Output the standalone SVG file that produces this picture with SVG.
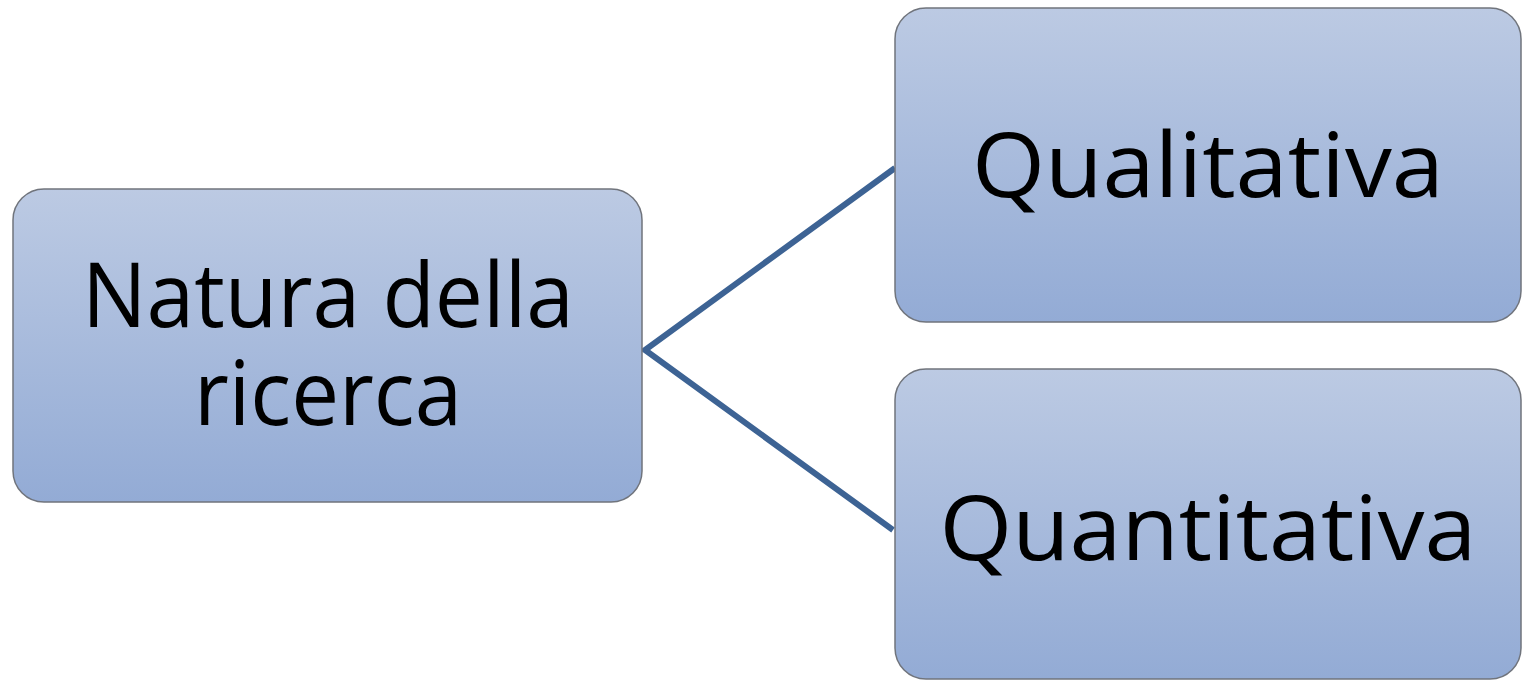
<svg xmlns="http://www.w3.org/2000/svg" width="1522" height="680" viewBox="0 0 1522 680">
  <defs>
    <linearGradient id="boxFill" x1="0" y1="0" x2="0" y2="1">
      <stop offset="0" stop-color="#bccae3"/>
      <stop offset="1" stop-color="#93abd5"/>
    </linearGradient>
    <style>
      .box { fill: url(#boxFill); stroke: #70747c; stroke-width: 1.5; }
      .label { font-family: "Open Sans", "Noto Sans", "Liberation Sans", sans-serif; font-size: 90px; fill: #000; text-anchor: middle; }
      .link { stroke: #3d6394; stroke-width: 6; fill: none; stroke-linejoin: miter; }
    </style>
  </defs>

  <g id="connectors">
    <polyline class="link" points="895,168 645,350 893,530"/>
  </g>

  <g id="node-natura">
    <rect class="box" x="13" y="189" width="629" height="313" rx="31" ry="31"/>
    <text class="label" x="328" y="327" textLength="492" lengthAdjust="spacingAndGlyphs">Natura della</text>
    <text class="label" x="328" y="425" textLength="268" lengthAdjust="spacingAndGlyphs">ricerca</text>
  </g>

  <g id="node-qualitativa">
    <rect class="box" x="895" y="8" width="626" height="314" rx="31" ry="31"/>
    <text class="label" x="1208" y="197" textLength="472" lengthAdjust="spacingAndGlyphs">Qualitativa</text>
  </g>

  <g id="node-quantitativa">
    <rect class="box" x="895" y="369" width="626" height="310" rx="31" ry="31"/>
    <text class="label" x="1208" y="560" textLength="537" lengthAdjust="spacingAndGlyphs">Quantitativa</text>
  </g>
</svg>
